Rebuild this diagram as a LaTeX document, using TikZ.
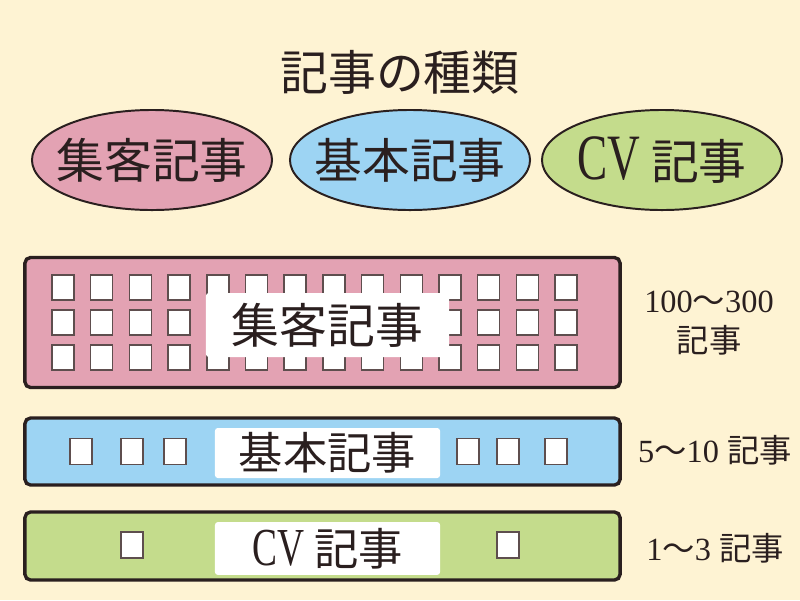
\documentclass[tikz,border=0pt]{standalone}
\usepackage{fontspec}
\usetikzlibrary{shapes.geometric}
\setmainfont{Liberation Serif}
\newfontfamily\jp{Noto Sans CJK JP}
\newfontfamily\narrow[FakeStretch=0.7]{Liberation Serif}
\definecolor{paper}{HTML}{FEF3D3}
\definecolor{ink}{HTML}{2A1F1F}
\definecolor{boxline}{HTML}{5E4E4E}
\definecolor{softpink}{HTML}{E3A2B3}
\definecolor{softblue}{HTML}{9DD4F3}
\definecolor{softgreen}{HTML}{C4DC8C}
\tikzset{
  kind/.style={
    ellipse,
    draw=ink,
    line width=1.4pt,
    minimum width=6.0cm,
    minimum height=2.5cm,
    inner xsep=-0.5cm,
    inner ysep=0pt,
    font=\jp\fontsize{34}{34}\selectfont,
    text=ink
  },
  band/.style={
    rectangle,
    rounded corners=4pt,
    draw=ink,
    line width=2.4pt,
    minimum width=14.875cm,
    inner sep=0pt
  },
  page/.style={
    rectangle,
    draw=boxline,
    fill=white,
    line width=1.1pt,
    minimum width=0.55cm,
    minimum height=0.62cm,
    inner sep=0pt
  },
  tag/.style={
    rectangle,
    rounded corners=2pt,
    fill=white,
    inner sep=0pt,
    text=ink
  },
  count/.style={font=\fontsize{23}{28}\selectfont, text=ink, align=center}
}

\begin{document}
\begin{tikzpicture}[x=0.025cm,y=-0.025cm]
  \fill[paper] (0,0) rectangle (800,600);

  \node[font=\jp\fontsize{34}{34}\selectfont, text=ink] (title) at (400,72) {記事の種類};

  % Article kinds.
  \node[kind, fill=softpink] (shukyaku) at (152,160) {集客記事};
  \node[kind, fill=softblue] (kihon) at (410,160) {基本記事};
  \node[kind, fill=softgreen] (cv) at (662,160) {{\narrow\fontsize{46}{46}\selectfont CV} 記事};

  % Bands.
  \node[band, fill=softpink, minimum height=3.25cm] (shukyakuband) at (322.5,322.5) {};
  \node[band, fill=softblue, minimum height=1.675cm] (kihonband) at (322.5,451.5) {};
  \node[band, fill=softgreen, minimum height=1.7cm] (cvband) at (322.5,546) {};

  % Pages.
  \foreach \row/\y in {1/287.5, 2/322.5, 3/357.5}
    \foreach \col in {0,...,13}
      \node[page] (p-\row-\col) at ({63+38.7*\col},\y) {};
  \foreach \x [count=\i] in {81,132,175,468,508,556}
    \node[page, minimum height=0.66cm] (b-\i) at (\x,451.5) {};
  \node[page, minimum height=0.66cm] (c-1) at (132,545) {};
  \node[page, minimum height=0.66cm] (c-2) at (508,545) {};

  % Labels.
  \node[tag, minimum width=6.075cm, minimum height=1.6cm, font=\jp\fontsize{34}{34}\selectfont] (shukyakutag) at (327.5,325) {集客記事};
  \node[tag, minimum width=5.625cm, minimum height=1.25cm, font=\jp\fontsize{31.5}{31.5}\selectfont] (kihontag) at (327.5,453) {基本記事};
  \node[tag, minimum width=5.625cm, minimum height=1.32cm, font=\jp\fontsize{31.5}{31.5}\selectfont] (cvtag) at (327.5,548.5) {{\narrow\fontsize{38}{38}\selectfont CV} 記事};

  % Counts.
  \node[count] (shukyakucount) at (709,323) {100{\jp ～}300\\{\jp 記事}};
  \node[count] (kihoncount) at (715,450) {5{\jp ～}10 {\jp 記事}};
  \node[count] (cvcount) at (715,548) {1{\jp ～}3 {\jp 記事}};
\end{tikzpicture}
\end{document}
